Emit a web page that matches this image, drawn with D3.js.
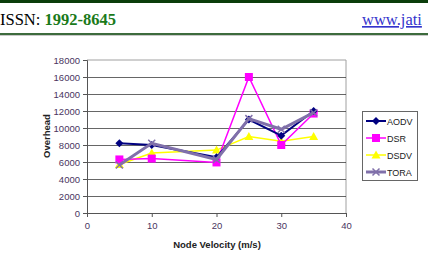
<!DOCTYPE html>
<html><head><meta charset="utf-8">
<script src="https://cdn.jsdelivr.net/npm/d3@7"></script>
<style>body{margin:0;background:#fff;overflow:hidden}</style>
</head><body>
<svg id="c" width="428" height="268"></svg>
<script>
const velocities = [5, 10, 20, 25, 30, 35];
const seriesNames = ["AODV", "DSR", "DSDV", "TORA"];
const aodv = [8200, 8000, 6550, 11000, 9100, 12000];
const dsr  = [6300, 6400, 5950, 16000, 8000, 11700];
const dsdv = [5700, 7050, 7400, 9000, 8450, 9000];
const tora = [5650, 8200, 6300, 11100, 9850, 11800];
const yTicks = [0, 2000, 4000, 6000, 8000, 10000, 12000, 14000, 16000, 18000];
const xTicks = [0, 10, 20, 30, 40];
const colors = ["#000080", "#ff00ff", "#ffff00", "#8070aa"];
const widths = [2, 1.5, 1.5, 3];
const data = [aodv, dsr, dsdv, tora];

const svg = d3.select("#c");
// header
svg.append("rect").attr("x",0).attr("y",0).attr("width",428).attr("height",3).attr("fill","#0b3d0b");
svg.append("rect").attr("x",0).attr("y",33).attr("width",428).attr("height",2).attr("fill","#3d6b3d");
svg.append("rect").attr("x",0).attr("y",35).attr("width",428).attr("height",1).attr("fill","#c8c8c8");
const hdr = svg.append("text").attr("x",0).attr("y",25).attr("font-family","Liberation Serif, serif").attr("font-size",16.5);
hdr.append("tspan").attr("fill","#000").text("ISSN: ");
hdr.append("tspan").attr("fill","#1a7a1a").attr("font-weight","bold").text("1992-8645");
svg.append("text").attr("x",362).attr("y",25).attr("font-family","Liberation Serif, serif").attr("font-size",16.5)
  .attr("fill","#3333cc").attr("text-decoration","underline").text("www.jati");

const x = d3.scaleLinear().domain([0,40]).range([87,346]);
const y = d3.scaleLinear().domain([0,18000]).range([213,60]);

// plot border (top/right)
svg.append("path").attr("d",`M${x(0)},${y(18000)}H${x(40)}V${y(0)}`).attr("fill","none").attr("stroke","#a0a0a0").attr("stroke-width",1);
// gridlines
svg.append("g").selectAll("line").data(yTicks.filter(d=>d>0&&d<18000)).join("line")
  .attr("x1",x(0)).attr("x2",x(40)).attr("y1",d=>Math.round(y(d))+0.5).attr("y2",d=>Math.round(y(d))+0.5)
  .attr("stroke","#333").attr("stroke-width",1).attr("opacity",0.75);

// axes
const yAxis = d3.axisLeft(y).tickValues(yTicks).tickFormat(d3.format("d")).tickSize(4).tickPadding(3);
const gy = svg.append("g").attr("transform",`translate(${x(0)},0)`).call(yAxis);
const xAxis = d3.axisBottom(x).tickValues(xTicks).tickFormat(d3.format("d")).tickSize(4).tickPadding(5);
const gx = svg.append("g").attr("transform",`translate(0,${y(0)})`).call(xAxis);
[gx, gy].forEach(g=>{
  g.select(".domain").attr("stroke","#555");
  g.selectAll(".tick line").attr("stroke","#555");
  g.selectAll(".tick text").attr("fill","#4a3560").attr("font-family","Liberation Sans, Arial, sans-serif").attr("font-size",9.5);
});

svg.append("text").attr("x",217).attr("y",248).attr("text-anchor","middle")
  .attr("font-family","Liberation Sans, Arial, sans-serif").attr("font-size",9.5).attr("font-weight","bold").attr("fill","#222")
  .text("Node Velocity (m/s)");
svg.append("text").attr("transform",`translate(50,136) rotate(-90)`).attr("text-anchor","middle")
  .attr("font-family","Liberation Sans, Arial, sans-serif").attr("font-size",9.5).attr("font-weight","bold").attr("fill","#222")
  .text("Overhead");

const line = d3.line().x((d,i)=>x(velocities[i])).y(d=>y(d));
function marker(g, idx, cx, cy){
  const c = colors[idx];
  if(idx===0) g.append("path").attr("d",`M${cx},${cy-4}L${cx+4},${cy}L${cx},${cy+4}L${cx-4},${cy}Z`).attr("fill",c);
  else if(idx===1) g.append("rect").attr("x",cx-4).attr("y",cy-4).attr("width",8).attr("height",8).attr("fill",c);
  else if(idx===2) g.append("path").attr("d",`M${cx},${cy-4.5}L${cx+4.5},${cy+3.5}L${cx-4.5},${cy+3.5}Z`).attr("fill",c);
  else g.append("path").attr("d",`M${cx-3.5},${cy-3.5}L${cx+3.5},${cy+3.5}M${cx+3.5},${cy-3.5}L${cx-3.5},${cy+3.5}`).attr("stroke",c).attr("stroke-width",1.5);
}
[2,1,0,3].forEach(idx=>{
  const g = svg.append("g");
  g.append("path").datum(data[idx]).attr("d",line).attr("fill","none").attr("stroke",colors[idx]).attr("stroke-width",widths[idx]);
  data[idx].forEach((v,i)=>marker(g, idx, x(velocities[i]), y(v)));
});

// legend
const lg = svg.append("g");
lg.append("rect").attr("x",362.5).attr("y",111.5).attr("width",55).attr("height",69).attr("fill","#fff").attr("stroke","#666");
seriesNames.forEach((n,i)=>{
  const ly = 121 + i*17;
  lg.append("line").attr("x1",366).attr("x2",386).attr("y1",ly).attr("y2",ly).attr("stroke",colors[i]).attr("stroke-width",widths[i]);
  marker(lg, i, 376, ly);
  lg.append("text").attr("x",387).attr("y",ly+3.5).attr("font-family","Liberation Sans, Arial, sans-serif").attr("font-size",9).attr("fill","#222").text(n);
});
</script>
</body></html>
